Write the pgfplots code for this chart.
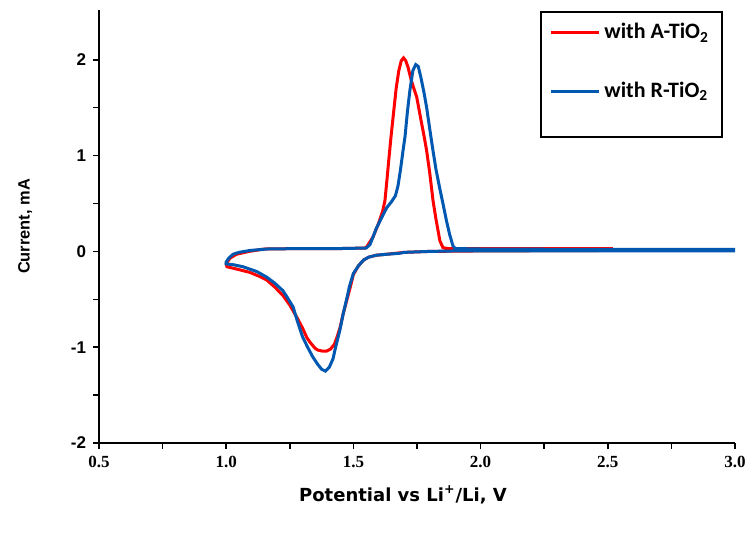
\documentclass[border=0pt]{standalone}
\usepackage{fontspec}
\setmainfont{Liberation Sans}
\newfontfamily\tickserif{Liberation Serif}
\newfontfamily\legfont{Carlito}
\newfontfamily\labfont{DejaVu Sans}
\usepackage{pgfplots}
\pgfplotsset{compat=1.18}
\definecolor{cvred}{RGB}{255,0,0}
\definecolor{cvblue}{RGB}{0,88,176}

\begin{document}
\begin{tikzpicture}
\begin{axis}[
  scale only axis, width=318bp, height=216.5bp,
  xmin=0.5, xmax=3.0, ymin=-2, ymax=2.52,
  axis lines*=left,
  axis line style={line width=0.75bp, black},
  xtick={0.5,1.0,1.5,2.0,2.5,3.0}, ytick={-2,-1,0,1,2},
  minor x tick num=1, minor y tick num=1,
  tick align=outside, major tick length=3bp, minor tick length=3bp,
  tick style={line width=0.75bp, black},
  /pgf/number format/assume math mode=true,
  x tick label style={font=\tickserif\bfseries\fontsize{8.5bp}{10bp}\selectfont,
    /pgf/number format/.cd, fixed, fixed zerofill, precision=1},
  y tick label style={font=\bfseries\fontsize{8.5bp}{10bp}\selectfont},
  xlabel={Potential vs Li\textsuperscript{+}/Li, V},
  ylabel={Current, mA},
  xlabel style={at={(axis description cs:0.478,-0.12)}, anchor=center,
    font=\labfont\bfseries\fontsize{9bp}{11bp}\selectfont},
  ylabel style={at={(axis description cs:-0.116,0.5)}, anchor=center, rotate=0,
    font=\bfseries\fontsize{8.2bp}{10bp}\selectfont},
  legend style={at={(0.695,0.995)}, anchor=north west, draw=none, fill=none,
    font=\legfont\bfseries\fontsize{11bp}{13bp}\selectfont,
    row sep=16bp, inner xsep=4bp, inner ysep=3.5bp},
  legend cell align=left,
  legend image code/.code={\draw[#1] (0bp,0bp) -- (24bp,0bp);},
]
\coordinate (bl) at (rel axis cs:0,0);
\draw[line width=0.75bp, black] (rel axis cs:0.695,0.9954) rectangle (rel axis cs:0.9796,0.7067);

\addplot[cvred, line width=1.5bp] coordinates {
  (2.52,0.01)(2.00,0.005)(1.80,0.0)(1.70,-0.01)(1.63,-0.03)(1.59,-0.04)
  (1.56,-0.06)(1.54,-0.09)(1.52,-0.15)(1.50,-0.24)(1.487,-0.38)(1.475,-0.50)
  (1.46,-0.65)(1.447,-0.80)(1.435,-0.90)(1.425,-0.97)(1.41,-1.02)(1.395,-1.04)
  (1.377,-1.04)(1.36,-1.03)(1.349,-1.01)(1.33,-0.95)(1.317,-0.90)(1.30,-0.80)
  (1.278,-0.69)(1.25,-0.56)(1.223,-0.46)(1.19,-0.37)(1.16,-0.30)(1.13,-0.26)
  (1.094,-0.22)(1.05,-0.19)(1.003,-0.16)
  (1.00,-0.13)(1.015,-0.07)(1.04,-0.03)(1.09,0.0)(1.15,0.025)(1.30,0.03)
  (1.45,0.03)(1.545,0.035)(1.553,0.05)(1.577,0.15)(1.60,0.30)(1.615,0.42)
  (1.624,0.53)(1.632,0.75)(1.640,0.98)(1.648,1.20)(1.658,1.45)(1.668,1.70)
  (1.678,1.88)(1.688,1.99)(1.697,2.02)(1.706,1.99)(1.715,1.92)(1.728,1.78)
  (1.749,1.61)(1.765,1.38)(1.778,1.20)(1.788,1.05)(1.80,0.82)(1.813,0.53)
  (1.825,0.33)(1.840,0.11)(1.852,0.04)(1.87,0.03)(2.00,0.03)(2.52,0.03)
};
\addlegendentry{with A-TiO\textsubscript{2}}

\addplot[cvblue, line width=1.5bp] coordinates {
  (3.00,0.005)(2.50,0.005)(2.00,0.005)(1.90,0.005)(1.80,0.0)(1.70,-0.01)
  (1.68,-0.02)(1.63,-0.03)(1.59,-0.04)(1.56,-0.06)(1.54,-0.09)(1.52,-0.15)
  (1.50,-0.23)(1.485,-0.36)(1.475,-0.48)(1.46,-0.65)(1.447,-0.82)(1.43,-1.00)
  (1.42,-1.12)(1.405,-1.21)(1.39,-1.25)(1.375,-1.23)(1.36,-1.18)(1.34,-1.10)
  (1.32,-1.00)(1.30,-0.89)(1.28,-0.73)(1.263,-0.58)(1.24,-0.48)(1.223,-0.41)
  (1.19,-0.33)(1.16,-0.27)(1.12,-0.21)(1.066,-0.16)(1.03,-0.14)(1.00,-0.13)
  (1.00,-0.11)(1.01,-0.07)(1.027,-0.03)(1.05,-0.01)(1.094,0.01)(1.16,0.025)
  (1.30,0.03)(1.45,0.03)(1.55,0.035)(1.565,0.07)(1.577,0.15)(1.59,0.24)
  (1.605,0.32)(1.62,0.40)(1.632,0.46)(1.65,0.52)(1.665,0.58)(1.675,0.68)
  (1.685,0.85)(1.695,1.05)(1.703,1.20)(1.712,1.45)(1.722,1.68)(1.734,1.89)
  (1.745,1.95)(1.755,1.93)(1.765,1.82)(1.778,1.65)(1.788,1.50)(1.80,1.28)
  (1.813,1.05)(1.825,0.85)(1.84,0.65)(1.852,0.50)(1.865,0.33)(1.878,0.18)
  (1.891,0.06)(1.90,0.03)(2.00,0.025)(2.50,0.02)(3.00,0.02)
};
\addlegendentry{with R-TiO\textsubscript{2}}
\end{axis}
\pgfresetboundingbox
\path ([shift={(-49.5bp,-45bp)}]bl) rectangle ([shift={(324bp,221.5bp)}]bl);
\end{tikzpicture}
\end{document}
